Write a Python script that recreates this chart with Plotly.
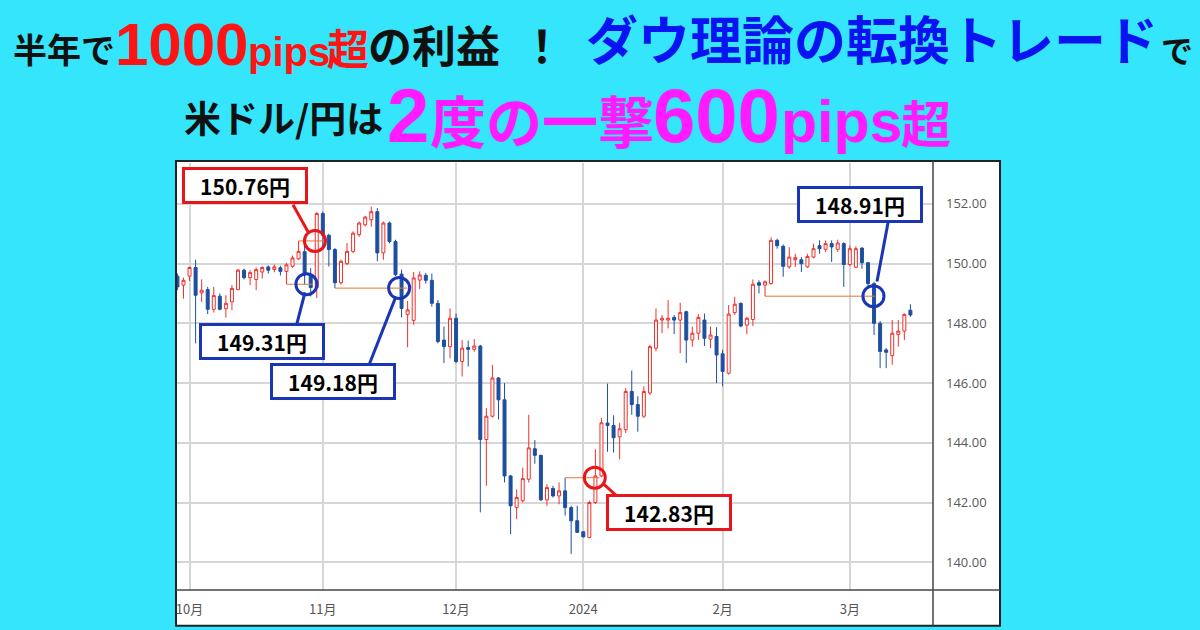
import plotly.graph_objects as go
import pandas as pd

# ---------------- data ----------------
dates = [d.strftime('%Y-%m-%d') for d in pd.bdate_range('2023-09-28', '2024-03-15')]

opens = [149.58, 149.28, 149.58, 149.87, 149.02, 149.13, 148.47, 148.91, 148.49, 148.72,
         149.13, 149.78, 149.53, 149.47, 149.72, 149.89, 149.80, 149.86, 149.74, 149.91,
         150.16, 150.40, 149.62, 149.20, 151.68, 150.95, 150.47, 149.36, 150.00, 150.41,
         150.97, 151.30, 151.47, 151.74, 150.36, 151.36, 150.74, 149.65, 148.30, 148.10,
         149.45, 149.61, 149.44, 148.67, 147.44, 147.22, 148.17, 146.72, 147.19, 147.13,
         147.24, 144.11, 144.89, 146.17, 145.44, 142.89, 141.83, 142.06, 142.78, 143.80,
         143.58, 142.09, 142.47, 142.22, 142.39, 141.83, 141.39, 141.02, 140.83, 142.00,
         142.89, 144.66, 144.58, 144.20, 144.44, 145.72, 145.28, 144.89, 145.67, 147.17,
         148.11, 148.11, 148.20, 148.11, 148.39, 147.44, 147.67, 148.11, 147.47, 147.56,
         146.98, 146.33, 148.36, 148.67, 147.94, 148.13, 149.36, 149.28, 149.33, 150.78,
         150.58, 149.89, 150.13, 150.13, 149.89, 150.22, 150.60, 150.48, 150.67, 150.48,
         150.67, 149.97, 149.88, 150.52, 150.03, 149.33, 148.00, 147.11, 146.92, 147.63,
         147.74, 148.44]
highs = [149.67, 149.53, 149.90, 150.13, 149.47, 149.22, 149.22, 149.00, 148.94, 149.28,
         149.82, 149.83, 149.78, 149.87, 149.91, 149.94, 149.97, 149.93, 150.02, 150.27,
         150.76, 150.74, 149.85, 151.72, 151.74, 151.00, 150.52, 150.13, 150.69, 151.08,
         151.41, 151.60, 151.91, 151.86, 151.41, 151.41, 150.80, 149.80, 148.75, 149.72,
         149.74, 149.69, 149.67, 148.78, 147.89, 148.50, 148.33, 147.44, 147.42, 147.47,
         147.28, 145.17, 146.61, 146.20, 146.00, 142.92, 142.44, 143.17, 144.94, 144.09,
         143.60, 142.61, 142.56, 142.67, 142.83, 141.89, 141.89, 141.04, 142.06, 143.78,
         144.83, 145.98, 144.92, 144.67, 145.83, 146.42, 145.56, 145.89, 147.28, 148.50,
         148.28, 148.78, 148.28, 148.69, 148.42, 147.89, 148.31, 148.33, 147.89, 147.87,
         147.11, 148.61, 148.89, 148.70, 148.22, 149.47, 149.44, 149.44, 150.88, 150.83,
         150.64, 150.55, 150.33, 150.22, 150.33, 150.67, 150.78, 150.78, 150.78, 150.80,
         150.72, 150.60, 150.58, 150.55, 150.06, 149.39, 148.08, 147.17, 148.11, 148.11,
         148.33, 148.64]
lows = [149.11, 148.83, 149.42, 147.33, 148.72, 148.31, 148.36, 148.44, 148.19, 148.44,
        149.11, 149.47, 149.28, 149.11, 149.50, 149.67, 149.71, 149.60, 149.31, 149.86,
        150.13, 149.30, 148.90, 148.85, 150.55, 149.90, 149.18, 149.30, 149.95, 150.35,
        150.90, 151.25, 151.24, 150.08, 150.13, 150.68, 149.58, 148.20, 147.20, 147.95,
        149.15, 149.33, 148.56, 147.33, 146.67, 146.83, 146.67, 146.22, 146.56, 147.05,
        141.67, 142.56, 144.85, 144.78, 142.67, 140.94, 141.44, 142.00, 142.67, 143.30,
        142.05, 141.89, 142.17, 141.94, 141.56, 140.28, 140.98, 140.83, 140.80, 141.95,
        142.85, 143.70, 143.67, 143.44, 144.33, 144.94, 144.37, 144.83, 145.60, 147.06,
        147.67, 147.83, 147.64, 147.00, 146.67, 147.22, 147.44, 147.24, 147.17, 146.00,
        145.89, 146.28, 148.28, 147.87, 147.64, 147.91, 149.00, 148.91, 149.30, 150.50,
        149.56, 149.83, 149.89, 149.72, 149.86, 150.18, 150.33, 150.39, 150.06, 150.39,
        149.22, 149.92, 149.85, 149.83, 149.22, 147.61, 146.50, 146.50, 146.61, 147.22,
        147.44, 148.22]
closes = [149.22, 149.44, 149.87, 148.94, 149.11, 148.47, 148.93, 148.47, 148.67, 149.17,
          149.78, 149.53, 149.70, 149.80, 149.87, 149.78, 149.89, 149.74, 149.96, 150.19,
          150.41, 149.62, 149.20, 151.68, 150.95, 150.47, 149.36, 150.08, 150.41, 151.02,
          151.36, 151.56, 151.74, 150.36, 151.36, 150.74, 149.63, 148.50, 148.45, 149.52,
          149.62, 149.44, 148.67, 147.39, 147.22, 148.17, 146.72, 147.17, 147.13, 147.24,
          144.11, 144.89, 146.17, 145.44, 142.89, 141.89, 142.17, 142.80, 143.83, 143.58,
          142.09, 142.50, 142.22, 142.39, 141.83, 141.39, 141.00, 140.85, 142.00, 142.89,
          144.67, 144.58, 144.17, 144.47, 145.72, 145.28, 144.89, 145.72, 147.22, 148.11,
          148.17, 148.17, 148.11, 148.36, 147.44, 147.67, 148.20, 147.50, 147.61, 146.94,
          146.39, 148.31, 148.64, 147.91, 148.17, 149.31, 149.28, 149.39, 150.78, 150.60,
          149.91, 150.22, 150.20, 150.00, 150.24, 150.50, 150.50, 150.67, 150.56, 150.69,
          149.97, 150.50, 150.50, 150.03, 149.33, 148.00, 147.06, 147.03, 147.67, 147.74,
          148.30, 148.28]

tick_dates = ['2023-10-02', '2023-11-01', '2023-12-01', '2024-01-01', '2024-02-01', '2024-03-01']
tick_labels = ['10月', '11月', '12月', '2024', '2月', '3月']
price_ticks = [140, 142, 144, 146, 148, 150, 152]

# Dow-theory levels
level_values = [150.76, 149.31, 149.18, 142.83, 148.91]
level_pivot_dates = ['2023-10-26', '2023-10-24', '2023-11-03', '2023-12-27', '2024-02-12']
level_break_dates = ['2023-10-31', '2023-10-30', '2023-11-20', '2024-01-03', '2024-03-07']
level_kinds = ['red', 'blue', 'blue', 'red', 'blue']

# ---------------- styling / layout helpers ----------------
W, H = 1200, 630
PL, PR, PT, PB = 177, 933, 163, 592
CYAN = '#35e5fb'
RED = '#e8161b'
BLUE = '#1a36b4'
KIND_COLOR = {'red': RED, 'blue': BLUE}
CJK = 'Noto Sans CJK JP'
LAT = 'Liberation Sans'


def px(x):
    return (x - PL) / (PR - PL)


def py(y):
    return (PB - y) / (PB - PT)


fig = go.Figure(go.Candlestick(
    x=dates, open=opens, high=highs, low=lows, close=closes,
    increasing=dict(line=dict(color='#f0302a', width=1), fillcolor='white'),
    decreasing=dict(line=dict(color='#1d4f9e', width=1), fillcolor='#1d4f9e'),
    hoverinfo='skip', showlegend=False,
))

shapes = []
# chart white box and separators
shapes.append(dict(type='rect', xref='paper', yref='paper', x0=px(176), x1=px(1000),
                   y0=py(628), y1=py(161), fillcolor='white', line=dict(color='#222', width=2),
                   layer='below'))
shapes.append(dict(type='line', xref='paper', yref='paper', x0=px(PR), x1=px(PR),
                   y0=py(628), y1=py(161), line=dict(color='#444', width=1.5)))
shapes.append(dict(type='line', xref='paper', yref='paper', x0=px(176), x1=px(1000),
                   y0=0, y1=0, line=dict(color='#444', width=1.5)))

circle_offsets = [-0.3, -0.7, -0.4, -0.1, -0.1]
line_end_offsets = [1.2, 0.3, 1.0, 0.7, 0.2]
for val, pd_, bd, kind, co, le in zip(level_values, level_pivot_dates, level_break_dates,
                                      level_kinds, circle_offsets, line_end_offsets):
    i0 = dates.index(pd_)
    ib = dates.index(bd)
    shapes.append(dict(type='line', xref='x', yref='y', x0=i0, x1=ib + le, y0=val, y1=val,
                       line=dict(color='#e8742c', width=1)))
    shapes.append(dict(type='circle', xref='x', yref='y', xsizemode='pixel', ysizemode='pixel',
                       xanchor=ib + co, yanchor=val, x0=-10.5, x1=10.5, y0=-10.5, y1=10.5,
                       line=dict(color=KIND_COLOR[kind], width=3)))

# label boxes (centre px) and connectors (px)
box_centers = [(245, 186), (262, 342), (333, 383), (669, 514), (860, 205)]
connectors = [((293, 205), (308, 232)), ((297, 324), (305, 293)), ((369, 366), (396, 297)),
              ((603, 485), (616, 497)), ((888, 223), (877, 282))]
annotations = []
for val, kind, (cx, cy), ((x0, y0), (x1, y1)) in zip(level_values, level_kinds, box_centers, connectors):
    shapes.append(dict(type='line', xref='paper', yref='paper', x0=px(x0), y0=py(y0),
                       x1=px(x1), y1=py(y1), line=dict(color=KIND_COLOR[kind], width=3)))
    annotations.append(dict(text=f'{val:.2f}円', xref='paper', yref='paper', x=px(cx), y=py(cy),
                            xanchor='center', yanchor='middle', showarrow=False,
                            font=dict(family=CJK, size=21, color='black', weight='bold'),
                            bgcolor='white', bordercolor=KIND_COLOR[kind], borderwidth=3,
                            borderpad=2, width=116, height=27))

# title segments: text, left px, baseline px, size, color, family
K = {CJK: 0.436, LAT: 0.3465}
title_segments = [
    ('半年で', 12, 63, 34, '#111111', CJK),
    ('1000', 114, 65, 60, '#ff1414', LAT),
    ('pips', 247, 65, 40, '#ff1414', LAT),
    ('超', 326, 64, 42, '#ff1414', CJK),
    ('の利益', 367, 63, 44, '#111111', CJK),
    ('！', 519, 63, 44, '#111111', CJK),
    ('ダウ理論の転換トレード', 585, 60, 52, '#0a14f0', CJK),
    ('で', 1160, 62, 32, '#111111', CJK),
    ('米ドル/円は', 183, 133, 37, '#111111', CJK),
    ('2', 386, 142, 76, '#ff1aff', LAT),
    ('度の一撃', 429, 143, 56, '#ff1aff', CJK),
    ('600', 652, 142, 76, '#ff1aff', LAT),
    ('pips', 780, 142, 59, '#ff1aff', LAT),
    ('超', 900, 143, 50, '#ff1aff', CJK),
]
for text, lx, base, size, color, fam in title_segments:
    cy = base - K[fam] * size
    annotations.append(dict(text=text, xref='paper', yref='paper', x=px(lx), y=py(cy),
                            xanchor='left', yanchor='middle', showarrow=False, borderpad=0,
                            font=dict(family=fam, size=size, color=color, weight='bold')))

fig.update_layout(
    width=W, height=H,
    margin=dict(l=PL, r=W - PR, t=PT, b=H - PB, pad=0),
    paper_bgcolor=CYAN, plot_bgcolor='white',
    shapes=shapes, annotations=annotations,
    showlegend=False,
    xaxis=dict(type='category', range=[-0.07, 124.73], rangeslider=dict(visible=False),
               tickmode='array', tickvals=tick_dates, ticktext=tick_labels,
               showgrid=True, gridcolor='#d6d6d6', gridwidth=1.5, ticks='',
               tickfont=dict(family=CJK, size=13, color='#555555'), ticklabelstandoff=10,
               showline=False, zeroline=False, fixedrange=True),
    yaxis=dict(range=[139.07, 153.37], side='right', tickmode='array', tickvals=price_ticks,
               ticktext=[f'{v:.2f}' for v in price_ticks], showgrid=True, gridcolor='#d6d6d6',
               gridwidth=1.5, ticks='', tickfont=dict(family='Open Sans', size=13, color='#5a5a5a'),
               ticklabelstandoff=12, showline=False, zeroline=False, fixedrange=True),
)

fig.write_html('out.html', config={'displayModeBar': False},
               post_script="document.body.style.margin='0';document.body.style.background='" + CYAN + "';")
